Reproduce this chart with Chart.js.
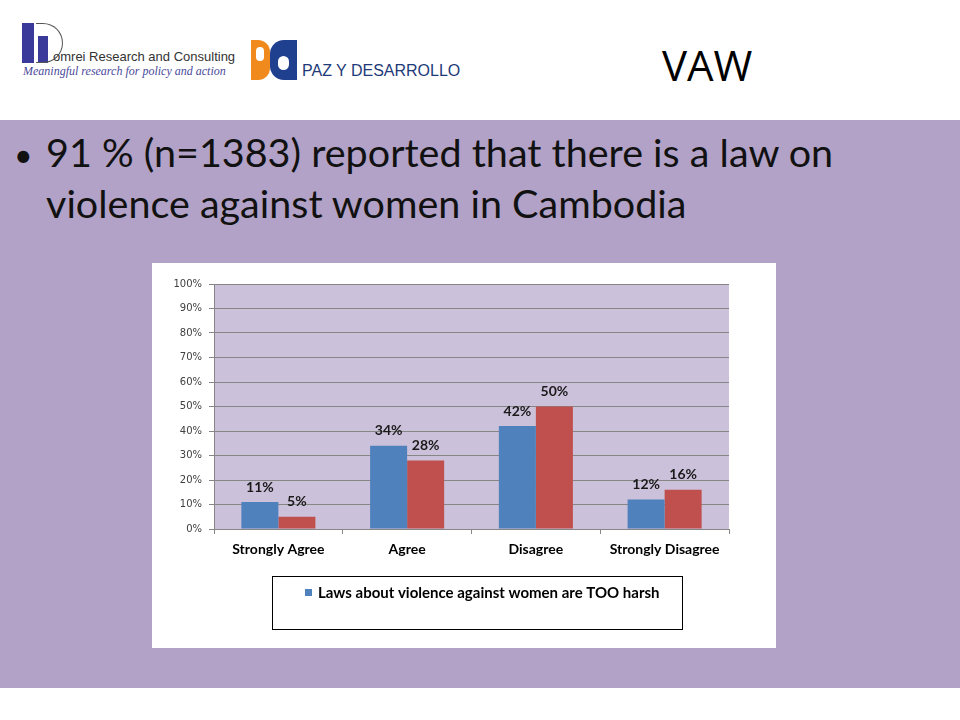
<!DOCTYPE html>
<html>
<head>
<meta charset="utf-8">
<script src="https://cdn.jsdelivr.net/npm/chart.js@4"></script>
<style>
  body { margin: 0; width: 960px; height: 720px; position: relative; background: #fff; overflow: hidden; font-family: Lato, sans-serif; }
  #slide { position: absolute; left: 0; top: 120px; width: 960px; height: 568px; background: #B2A2C7; }
  .abs { position: absolute; }
  #bullet { left: 14px; top: 126px; font-size: 39.5px; line-height: 51px; color: #111; }
  #bullet .dot { position: absolute; left: 0; font-size: 32px; top: 3px; }
  #bullet .txt { position: absolute; left: 32px; white-space: nowrap; }
  #title { left: 662px; top: 40px; font-size: 42px; color: #000; font-family: "Open Sans", sans-serif; line-height: 50px; }
  #box { left: 152px; top: 263px; width: 624px; height: 385px; background: #fff; }
</style>
</head>
<body>
<div id="slide"></div>

<!-- logos -->
<div class="abs" style="left:22px;top:23px;width:12px;height:40px;background:#3a3a9a"></div>
<div class="abs" style="left:38px;top:36px;width:10px;height:27px;background:#3a3a9a"></div>
<div class="abs" style="left:36px;top:23px;width:27px;height:40px;border:1px solid #555;border-left:none;border-radius:0 20px 20px 0;box-sizing:border-box"></div>
<div class="abs" style="left:53px;top:49px;font-size:13px;color:#333;font-family:'Liberation Sans',sans-serif;white-space:nowrap">omrei Research and Consulting</div>
<div class="abs" style="left:23px;top:64px;font-size:12px;color:#4a4a9a;font-style:italic;font-family:'Liberation Serif',serif;white-space:nowrap">Meaningful research for policy and action</div>
<div class="abs" style="left:251px;top:40px;width:19px;height:40px;background:#F08A1C;border-radius:0 12px 12px 0"></div>
<div class="abs" style="left:256px;top:47px;width:8px;height:14px;background:#fff;border-radius:5px"></div>
<div class="abs" style="left:270px;top:40px;width:27px;height:40px;background:#1F3F8F;border-radius:14px 0 0 14px"></div>
<div class="abs" style="left:278px;top:56px;width:11px;height:14px;background:#fff;border-radius:6px"></div>
<div class="abs" style="left:302px;top:62px;font-size:16px;color:#1e3a78;font-family:'Liberation Sans',sans-serif;white-space:nowrap">PAZ Y DESARROLLO</div>

<div id="title" class="abs">VAW</div>
<div id="bullet" class="abs">
  <span class="dot">•</span>
  <span class="txt" style="top:0">91 % (n=1383) reported that there is a law on</span>
  <span class="txt" style="top:51px">violence against women in Cambodia</span>
</div>

<div id="box" class="abs"><canvas id="chart" width="624" height="385"></canvas></div>

<script>
const categories = ['Strongly Agree', 'Agree', 'Disagree', 'Strongly Disagree'];
const tooHarsh = [11, 34, 42, 12];
const secondSeries = [5, 28, 50, 16];
const legendLabel = 'Laws about violence against women are TOO harsh';

const plotBg = {
  id: 'plotBg',
  beforeDraw(chart) {
    const a = chart.chartArea, ctx = chart.ctx;
    ctx.save();
    ctx.fillStyle = '#CCC1DA';
    ctx.fillRect(a.left, a.top, a.right - a.left, a.bottom - a.top);
    ctx.restore();
  }
};

const barLabels = {
  id: 'barLabels',
  afterDatasetsDraw(chart) {
    const ctx = chart.ctx;
    ctx.save();
    ctx.font = 'bold 14px Lato';
    ctx.fillStyle = '#1a1a1a';
    ctx.textAlign = 'center';
    ctx.textBaseline = 'middle';
    chart.data.datasets.forEach((ds, i) => {
      chart.getDatasetMeta(i).data.forEach((bar, j) => {
        ctx.fillText(ds.data[j] + '%', bar.x, bar.y - 15);
      });
    });
    ctx.restore();
  }
};

const boxLegend = {
  id: 'boxLegend',
  afterDraw(chart) {
    const a = chart.chartArea, ctx = chart.ctx;
    const x = a.left + 58, y = a.bottom + 47;
    ctx.save();
    ctx.strokeStyle = '#000';
    ctx.lineWidth = 1;
    ctx.strokeRect(x + 0.5, y + 0.5, 410, 53);
    const ds = chart.data.datasets[0];
    ctx.fillStyle = ds.backgroundColor;
    ctx.fillRect(x + 33, y + 13, 7, 7);
    ctx.font = 'bold 15px Lato';
    ctx.fillStyle = '#000';
    ctx.textBaseline = 'middle';
    ctx.fillText(ds.label, x + 46, y + 17);
    ctx.restore();
  }
};

new Chart(document.getElementById('chart'), {
  type: 'bar',
  data: {
    labels: categories,
    datasets: [
      { label: legendLabel, data: tooHarsh, backgroundColor: '#4F81BD' },
      { label: '', data: secondSeries, backgroundColor: '#C0504D' }
    ]
  },
  options: {
    responsive: false,
    animation: false,
    categoryPercentage: 0.575,
    barPercentage: 1.0,
    layout: { padding: { top: 21, right: 47, left: 0, bottom: 74 } },
    plugins: { legend: { display: false }, tooltip: { enabled: false } },
    scales: {
      y: {
        min: 0,
        max: 100,
        ticks: {
          stepSize: 10,
          callback: v => v + '%',
          font: { family: 'DejaVu Sans', size: 10 },
          color: '#404040',
          padding: 7
        },
        grid: { color: '#868686', tickLength: 5 },
        border: { color: '#868686' },
        afterFit: s => { s.width = 62; }
      },
      x: {
        ticks: { font: { family: 'Lato', size: 14, weight: 'bold' }, color: '#000', padding: 7 },
        grid: { offset: true, drawOnChartArea: false, color: '#868686', tickLength: 5 },
        border: { color: '#868686' },
        afterFit: s => { s.height = 45; }
      }
    }
  },
  plugins: [plotBg, barLabels, boxLegend]
});
</script>
</body>
</html>
